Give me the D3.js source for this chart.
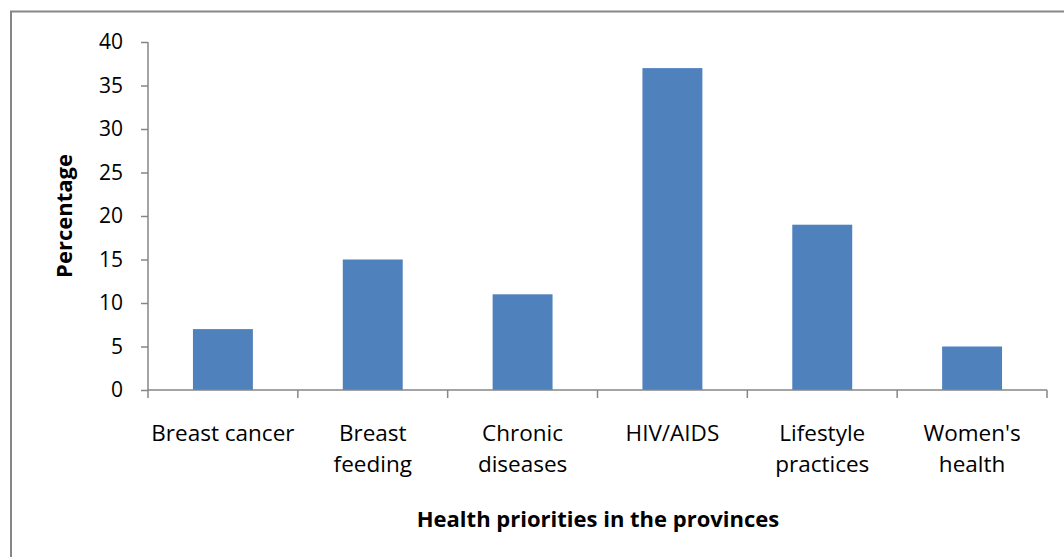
<!DOCTYPE html>
<html>
<head>
<meta charset="utf-8">
<script src="https://cdn.jsdelivr.net/npm/d3@7"></script>
<style>
  html, body { margin: 0; padding: 0; background: #fff; }
  svg { display: block; }
  text { font-family: "Open Sans", sans-serif; fill: #000; }
</style>
</head>
<body>
<svg id="chart" width="1064" height="557"></svg>
<script>
// Health priorities data
const categories = [
  ["Breast cancer"],
  ["Breast", "feeding"],
  ["Chronic", "diseases"],
  ["HIV/AIDS"],
  ["Lifestyle", "practices"],
  ["Women's", "health"]
];
const values = [7, 15, 11, 37, 19, 5];
const yTicks = [0, 5, 10, 15, 20, 25, 30, 35, 40];
const yTitle = "Percentage";
const xTitle = "Health priorities in the provinces";

const svg = d3.select("#chart");
const W = 1064, H = 557;
const m = { left: 148, right: 17, top: 42, bottom: 167 };

// chart frame (runs past the bottom/right of the canvas)
svg.append("rect")
  .attr("x", 11).attr("y", 11.5)
  .attr("width", W + 20).attr("height", H + 20)
  .attr("fill", "none").attr("stroke", "#868686").attr("stroke-width", 2);

const x = d3.scaleBand()
  .domain(d3.range(categories.length))
  .range([m.left, W - m.right])
  .paddingInner(0.6).paddingOuter(0.3);

const y = d3.scaleLinear().domain([0, 40]).range([H - m.bottom, m.top]);

// bars
svg.append("g").selectAll("rect")
  .data(values)
  .join("rect")
  .attr("x", (d, i) => x(i))
  .attr("y", d => y(d))
  .attr("width", x.bandwidth())
  .attr("height", d => y(0) - y(d))
  .attr("fill", "#4F81BD");

// y axis
const yAxis = svg.append("g")
  .attr("transform", `translate(${m.left},0)`)
  .call(d3.axisLeft(y).tickValues(yTicks).tickSize(7).tickPadding(18));
yAxis.selectAll("path, line").attr("stroke", "#868686").attr("stroke-width", 1.5);
yAxis.select(".domain").attr("d", `M0,${y(40)}V${y(0)}`);
yAxis.selectAll("text").style("font-family", "'Open Sans', sans-serif").style("font-size", "21px").attr("fill", "#000");

// x axis: tick marks on category boundaries
const step = x.step();
const bounds = d3.range(categories.length + 1).map(i => m.left + i * step);
const xg = svg.append("g");
xg.append("line")
  .attr("x1", m.left).attr("x2", W - m.right)
  .attr("y1", y(0)).attr("y2", y(0))
  .attr("stroke", "#868686").attr("stroke-width", 1.5);
xg.selectAll("line.tick")
  .data(bounds)
  .join("line")
  .attr("class", "tick")
  .attr("x1", d => d).attr("x2", d => d)
  .attr("y1", y(0)).attr("y2", y(0) + 8)
  .attr("stroke", "#868686").attr("stroke-width", 1.5);

// category labels
const lab = svg.append("g").selectAll("text")
  .data(categories)
  .join("text")
  .attr("x", (d, i) => x(i) + x.bandwidth() / 2)
  .attr("y", y(0) + 51)
  .attr("text-anchor", "middle")
  .style("font-size", "22.5px");
lab.selectAll("tspan")
  .data(d => d)
  .join("tspan")
  .attr("x", function () { return this.parentNode.getAttribute("x"); })
  .attr("dy", (d, i) => i === 0 ? 0 : 31)
  .text(d => d);

// axis titles
svg.append("text")
  .attr("transform", `translate(72,216) rotate(-90)`)
  .attr("text-anchor", "middle")
  .style("font-size", "22px").style("font-weight", "bold")
  .text(yTitle);

svg.append("text")
  .attr("x", 598).attr("y", 527)
  .attr("text-anchor", "middle")
  .style("font-size", "22px").style("font-weight", "bold")
  .text(xTitle);
</script>
</body>
</html>
